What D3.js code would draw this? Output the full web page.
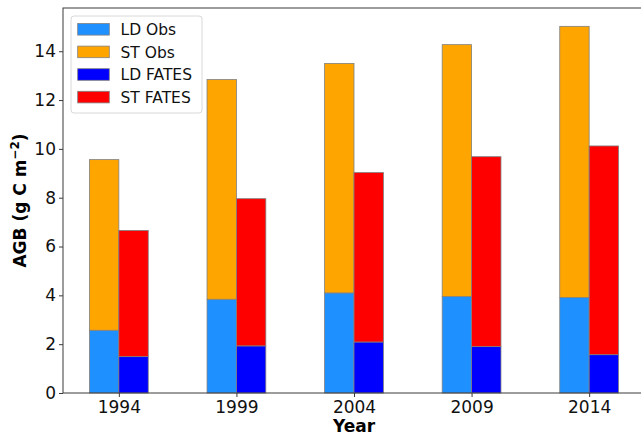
<!DOCTYPE html>
<html>
<head>
<meta charset="utf-8">
<script src="https://cdn.jsdelivr.net/npm/d3@7"></script>
<style>
  html, body { margin: 0; padding: 0; background: #fff; }
  svg { display: block; font-family: "DejaVu Sans", sans-serif; }
</style>
</head>
<body>
<svg id="chart" width="641" height="435"></svg>
<script>
// Survey years
const years = ["1994", "1999", "2004", "2009", "2014"];
// Above-ground biomass components (g C m^-2), stacked per column
const ldObs   = [2.57, 3.84, 4.10, 3.95, 3.91];
const stObs   = [6.99, 9.00, 9.40, 10.32, 11.11];
const ldFates = [1.49, 1.93, 2.09, 1.90, 1.57];
const stFates = [5.17, 6.03, 6.94, 7.78, 8.55];
const yTicks  = [0, 2, 4, 6, 8, 10, 12, 14];

const legendItems = [
  { name: "LD Obs",   color: "#1E90FF" },
  { name: "ST Obs",   color: "#FFA500" },
  { name: "LD FATES", color: "#0000FF" },
  { name: "ST FATES", color: "#FF0000" }
];

(function draw() {
  const svg = d3.select("#chart");
  const pL = 63, pR = 645, pT = 8, pB = 393;
  const barW = 0.25;

  const obsTotals = ldObs.map((v, i) => v + stObs[i]);
  const fatesTotals = ldFates.map((v, i) => v + stFates[i]);
  const ymax = d3.max(obsTotals.concat(fatesTotals)) * 1.05;

  // 5% padding on both sides of the bar extent
  const lo = -barW, hi = years.length - 1 + barW, pad = (hi - lo) * 0.05;
  const x = d3.scaleLinear().domain([lo - pad, hi + pad]).range([pL, pR]);
  const y = d3.scaleLinear().domain([0, ymax]).range([pB, pT]);

  // Stacked segments: observed column left of the tick, model column right
  const segs = [];
  years.forEach((yr, i) => {
    const xo = i - barW / 2, xf = i + barW / 2;
    segs.push({ xc: xo, y0: 0, y1: ldObs[i], color: legendItems[0].color });
    segs.push({ xc: xo, y0: ldObs[i], y1: ldObs[i] + stObs[i], color: legendItems[1].color });
    segs.push({ xc: xf, y0: 0, y1: ldFates[i], color: legendItems[2].color });
    segs.push({ xc: xf, y0: ldFates[i], y1: ldFates[i] + stFates[i], color: legendItems[3].color });
  });

  svg.append("g").selectAll("rect").data(segs).join("rect")
    .attr("x", d => x(d.xc - barW / 2))
    .attr("width", d => x(d.xc + barW / 2) - x(d.xc - barW / 2))
    .attr("y", d => y(d.y1))
    .attr("height", d => y(d.y0) - y(d.y1))
    .attr("fill", d => d.color)
    .attr("stroke", "#808080")
    .attr("stroke-width", 0.8);

  // Frame
  svg.append("rect")
    .attr("x", pL).attr("y", pT)
    .attr("width", pR - pL).attr("height", pB - pT)
    .attr("fill", "none").attr("stroke", "#3a3a3a").attr("stroke-width", 1);

  // Axes
  const yAxis = svg.append("g").attr("transform", `translate(${pL},0)`)
    .call(d3.axisLeft(y).tickValues(yTicks).tickFormat(d3.format("d")).tickSize(4).tickPadding(3));
  const xAxis = svg.append("g").attr("transform", `translate(0,${pB})`)
    .call(d3.axisBottom(x).tickValues(d3.range(years.length)).tickFormat(i => years[i]).tickSize(4).tickPadding(4));
  [yAxis, xAxis].forEach(g => {
    g.select(".domain").remove();
    g.selectAll("line").attr("stroke", "#3a3a3a");
    g.selectAll("text").attr("font-size", 17).attr("fill", "#111")
      .attr("font-family", "DejaVu Sans, sans-serif");
  });

  // Axis titles
  svg.append("text")
    .attr("x", (pL + pR) / 2).attr("y", 432)
    .attr("text-anchor", "middle").attr("font-size", 17).attr("font-weight", "bold")
    .text("Year");

  const yl = svg.append("text")
    .attr("transform", `translate(26,${(pT + pB) / 2}) rotate(-90)`)
    .attr("text-anchor", "middle").attr("font-size", 17).attr("font-weight", "bold");
  yl.append("tspan").text("AGB (g C m");
  yl.append("tspan").attr("dy", -7).attr("font-size", 12).text("−2");
  yl.append("tspan").attr("dy", 7).text(")");

  // Legend
  const lg = svg.append("g").attr("transform", "translate(71,16)");
  lg.append("rect").attr("width", 131).attr("height", 97).attr("rx", 3)
    .attr("fill", "#fff").attr("fill-opacity", 0.8).attr("stroke", "#d8d8d8");
  legendItems.forEach((d, i) => {
    const cy = 13.3 + i * 22.6;
    lg.append("rect").attr("x", 6.7).attr("y", cy - 5.8).attr("width", 31.6).attr("height", 11.6)
      .attr("fill", d.color).attr("stroke", "#808080").attr("stroke-width", 0.8);
    lg.append("text").attr("x", 49.5).attr("y", cy + 5.6).attr("font-size", 15.5).attr("fill", "#111").text(d.name);
  });
})();
</script>
</body>
</html>
